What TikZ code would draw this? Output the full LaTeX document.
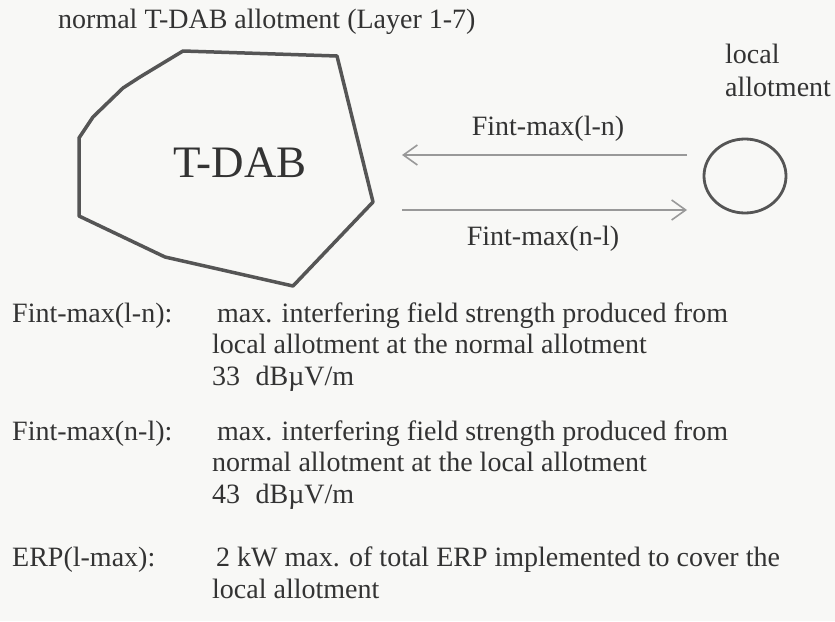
\documentclass[tikz,border=0pt]{standalone}
\usepackage{fontspec}
\setmainfont{Liberation Serif}
\usetikzlibrary{arrows.meta,shapes.geometric}
\definecolor{inkgray}{HTML}{333333}
\definecolor{linegray}{HTML}{555555}
\definecolor{arrowgray}{HTML}{999999}
\definecolor{paper}{HTML}{F8F8F6}
\tikzset{
  txt/.style={anchor=base west, inner sep=0pt, text=inkgray, font=\fontsize{28}{32}\selectfont},
  flow/.style={draw=arrowgray, line width=1.6pt, -{Straight Barb[length=14pt,width=20pt]}},
}
\begin{document}
\begin{tikzpicture}[x=1pt,y=-1pt]
  \fill[paper] (0,0) rectangle (835,621);
  \useasboundingbox (0,0) rectangle (835,621);
  % upper part
  \node[txt] (title) at (58,28) {normal T-DAB allotment (Layer 1-7)};
  \draw[linegray, line width=3.5pt, line join=round] (183,51) -- (337,56) -- (373,202) -- (293,286)
    -- (165,257) -- (79,216) -- (79,138) -- (93,117) -- (123,88) -- (140,77) -- cycle;
  \node[text=inkgray, font=\fontsize{45}{50}\selectfont] (tdab) at (240,163) {T-DAB};
  \node[ellipse, draw=linegray, line width=2.8pt, minimum width=82pt, minimum height=74pt] (local) at (745,176) {};
  \node[txt] (localname) at (725,63) {local};
  \node[txt] (localname2) at (725,96) {allotment};
  \coordinate (ln-from) at (687,155);
  \coordinate (ln-to) at (402,155);
  \coordinate (nl-from) at (402,210);
  \coordinate (nl-to) at (687,210);
  \draw[flow] (ln-from) -- (ln-to);
  \draw[flow] (nl-from) -- (nl-to);
  \node[txt, anchor=base] (lnlabel) at (548,135) {Fint-max(l-n)};
  \node[txt, anchor=base] (nllabel) at (543,245) {Fint-max(n-l)};
  % legend
  \node[txt] (lnkey) at (12,322) {Fint-max(l-n):};
  \node[txt] (lndesc1) at (217,322) {max. interfering field strength produced from};
  \node[txt] (lndesc2) at (212,353) {local allotment at the normal allotment};
  \node[txt] (lndesc3) at (212,385) {33\hspace{0.55em}dBµV/m};
  \node[txt] (nlkey) at (12,440) {Fint-max(n-l):};
  \node[txt] (nldesc1) at (217,440) {max. interfering field strength produced from};
  \node[txt] (nldesc2) at (212,471) {normal allotment at the local allotment};
  \node[txt] (nldesc3) at (212,503) {43\hspace{0.55em}dBµV/m};
  \node[txt] (erpkey) at (12,566) {ERP(l-max):};
  \node[txt] (erpdesc1) at (216,566) {2 kW max. of total ERP implemented to cover the};
  \node[txt] (erpdesc2) at (212,598) {local allotment};
\end{tikzpicture}
\end{document}
